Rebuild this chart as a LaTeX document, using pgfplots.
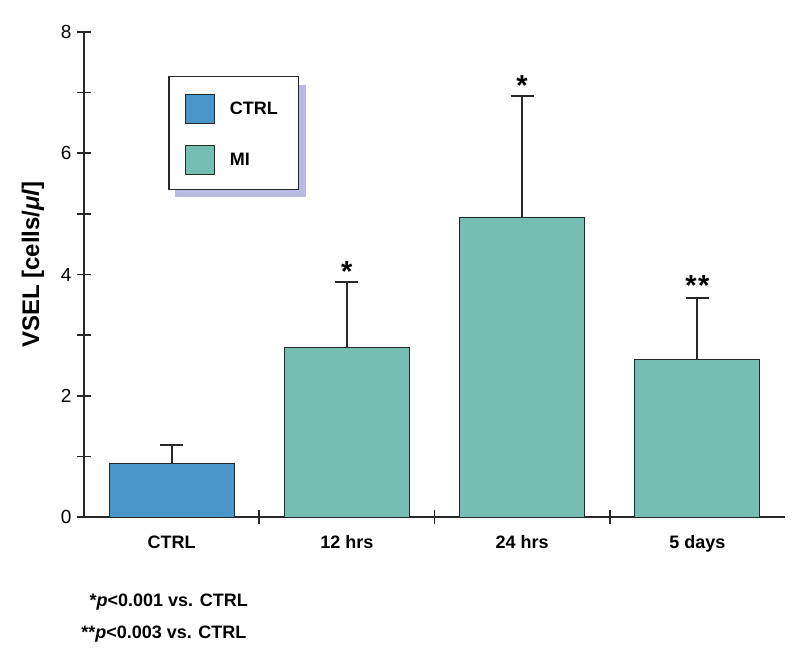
\documentclass[border=0pt]{standalone}
\usepackage{pgfplots}
\pgfplotsset{compat=1.18}
\usepackage{pgfplotstable}
\usepackage{fontspec}
\setmainfont{Liberation Sans}
\definecolor{ctrlblue}{RGB}{74,150,202}
\definecolor{miteal}{RGB}{116,191,178}
\definecolor{axgray}{RGB}{40,40,40}
\definecolor{shadowlav}{RGB}{185,185,228}

\pgfplotstableread{
x y e
0 0.89 0.30
}\ctrltab
\pgfplotstableread{
x y e
1 2.79 1.09
2 4.95 2.00
3 2.60 1.01
}\mitab

\pgfplotsset{
  legsq/.style={legend image code/.code={\draw[##1, draw=axgray, line width=0.8pt] (0pt,-14.6pt) rectangle (29.6pt,14.6pt);}},
  ebar/.style={error bars/.cd, y dir=plus, y explicit,
    error bar style={line width=2.2pt, color=axgray},
    error mark options={rotate=90, mark size=11.5pt, line width=2.2pt, color=axgray}},
}

\begin{document}
\begin{tikzpicture}
\path[use as bounding box] (-84pt,-148pt) rectangle (716pt,517pt);
\begin{axis}[
  scale only axis, width=701pt, height=485pt,
  at={(0pt,0pt)}, anchor=south west,
  xmin=-0.5, xmax=3.5, ymin=0, ymax=8,
  clip=false,
  axis x line*=bottom, axis y line*=left,
  axis line style={line width=2.4pt, color=axgray, -},
  ytick={0,2,4,6,8}, minor ytick={1,3,5,7},
  xtick={0,1,2,3}, xticklabels={CTRL,12 hrs,24 hrs,5 days},
  xtick style={draw=none},
  extra x ticks={0.5,1.5,2.5}, extra x tick labels={},
  extra x tick style={xtick style={draw=axgray, line width=1.6pt}},
  tick align=center, major tick length=14pt, minor tick length=14pt,
  ytick style={line width=1.6pt, color=axgray},
  minor tick style={line width=1.6pt, color=axgray},
  /pgf/number format/assume math mode=true,
  yticklabel style={font=\fontsize{19}{22}\selectfont, xshift=-2pt},
  xticklabel style={font=\bfseries\fontsize{18}{21}\selectfont, yshift=-8pt},
  ylabel={VSEL [cells/\textit{μl}]},
  every axis y label/.style={at={(rel axis cs:0,0.5)}, xshift=-51pt, yshift=10pt, rotate=90, anchor=center, font=\bfseries\fontsize{24}{28}\selectfont},
  legend style={at={(rel axis cs:0.1431,0.8722)}, anchor=north west, draw=none, fill=none,
    inner sep=0pt, row sep=20.7pt,
    font=\bfseries\fontsize{18}{21}\selectfont, cells={anchor=west},
    nodes={inner sep=2pt},
    /tikz/every odd column/.append style={column sep=13pt}},
]
\fill[shadowlav] (rel axis cs:0.1298,0.6604) rectangle (rel axis cs:0.3163,0.8907);
\draw[line width=1.3pt, draw=axgray, fill=white] (rel axis cs:0.1213,0.6757) rectangle (rel axis cs:0.3057,0.9078);

\addplot[ybar, bar width=125pt, bar shift=0pt, fill=ctrlblue, draw=axgray, line width=0.8pt, legsq, ebar]
  table[x=x, y=y, y error=e]{\ctrltab};
\addlegendentry{CTRL}
\addplot[ybar, bar width=125pt, bar shift=0pt, fill=miteal, draw=axgray, line width=0.8pt, legsq, ebar]
  table[x=x, y=y, y error=e]{\mitab};
\addlegendentry{MI}

\node[anchor=base, font=\bfseries\fontsize{29}{29}\selectfont, inner sep=0pt] at (axis cs:1,3.88) {*};
\node[anchor=base, font=\bfseries\fontsize{29}{29}\selectfont, inner sep=0pt] at (axis cs:2,6.95) {*};
\node[anchor=base, font=\bfseries\fontsize{29}{29}\selectfont, inner sep=0pt] at (axis cs:3,3.66) {*\kern1.5pt*};

\node[anchor=base east, font=\bfseries\fontsize{18}{21}\selectfont, inner sep=0pt, xshift=164pt, yshift=-89.7pt] at (rel axis cs:0,0) {*\textit{p}<0.001 vs. CTRL};
\node[anchor=base east, font=\bfseries\fontsize{18}{21}\selectfont, inner sep=0pt, xshift=162.7pt, yshift=-121.3pt] at (rel axis cs:0,0) {**\textit{p}<0.003 vs. CTRL};
\end{axis}
\end{tikzpicture}
\end{document}
